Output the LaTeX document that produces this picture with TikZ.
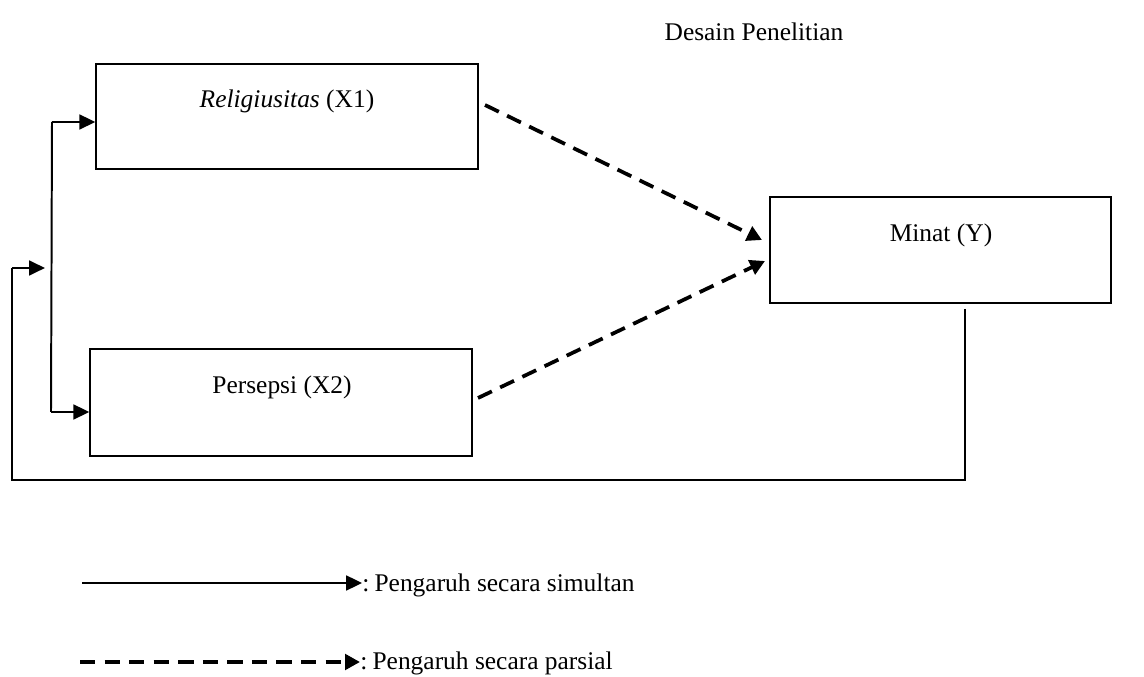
\documentclass[tikz,border=0pt]{standalone}
\usepackage{fontspec}
\setmainfont{Liberation Serif}
\usetikzlibrary{arrows.meta}
\tikzset{
  box/.style={draw, line width=0.7pt, inner sep=0pt},
  lbl/.style={anchor=base, font=\fontsize{11.6}{14}\selectfont, inner sep=0pt},
  simarrow/.style={line width=0.9pt, -{Triangle[length=7.2pt,width=6.8pt]}},
  simline/.style={line width=0.9pt},
  pararrow/.style={line width=1.7pt, dash pattern=on 7pt off 4.2pt, -{Triangle[length=6.8pt,width=7pt]}},
}
\begin{document}
\begin{tikzpicture}[x=0.456pt, y=-0.456pt]
\useasboundingbox (0,0) rectangle (1144,677);
% title
\node[lbl] (title) at (754,41) {Desain Penelitian};
% boxes
\node[box, minimum width=382*0.456pt, minimum height=105*0.456pt] (x1) at (287,116.5) {};
\node[box, minimum width=382*0.456pt, minimum height=107*0.456pt] (x2) at (281,402.5) {};
\node[box, minimum width=341*0.456pt, minimum height=106*0.456pt] (y) at (940.5,250) {};
\node[lbl] (tx1) at (287,108) {\textit{Religiusitas} (X1)};
\node[lbl] (tx2) at (282,394) {Persepsi (X2)};
\node[lbl] (ty) at (941,242) {Minat (Y)};
% partial (dashed) arrows
\coordinate (d1s) at (485,105);
\coordinate (d1e) at (762,240);
\coordinate (d2s) at (478,398);
\coordinate (d2e) at (765,261);
\draw[pararrow] (d1s) -- (d1e);
\draw[pararrow] (d2s) -- (d2e);
% simultaneous bracket
\coordinate (bt) at (52,122);
\coordinate (bb) at (51,412);
\coordinate (bm) at (12,268);
\coordinate (bmid) at (51.5,268);
\draw[simline] (bt) -- (bb);
\draw[simarrow] (bt) -- (x1.west |- bt);
\draw[simarrow] (bb) -- (x2.west |- bb);
\draw[simarrow] (bm) -- ([xshift=-3]bmid);
% feedback line from Y
\coordinate (fy) at (965,309);
\coordinate (fb) at (965,480);
\coordinate (fl) at (12,480);
\draw[simline] (fy) -- (fb) -- (fl) -- (bm);
% legend
\coordinate (l1s) at (82,583);
\coordinate (l1e) at (362,583);
\coordinate (l2s) at (80,662);
\coordinate (l2e) at (360,662);
\draw[simarrow] (l1s) -- (l1e);
\draw[pararrow] (l2s) -- (l2e);
\node[lbl, anchor=base west] (t1) at (362,592) {:\hspace{0.2em}Pengaruh secara simultan};
\node[lbl, anchor=base west] (t2) at (360,670) {:\hspace{0.2em}Pengaruh secara parsial};
\end{tikzpicture}
\end{document}
